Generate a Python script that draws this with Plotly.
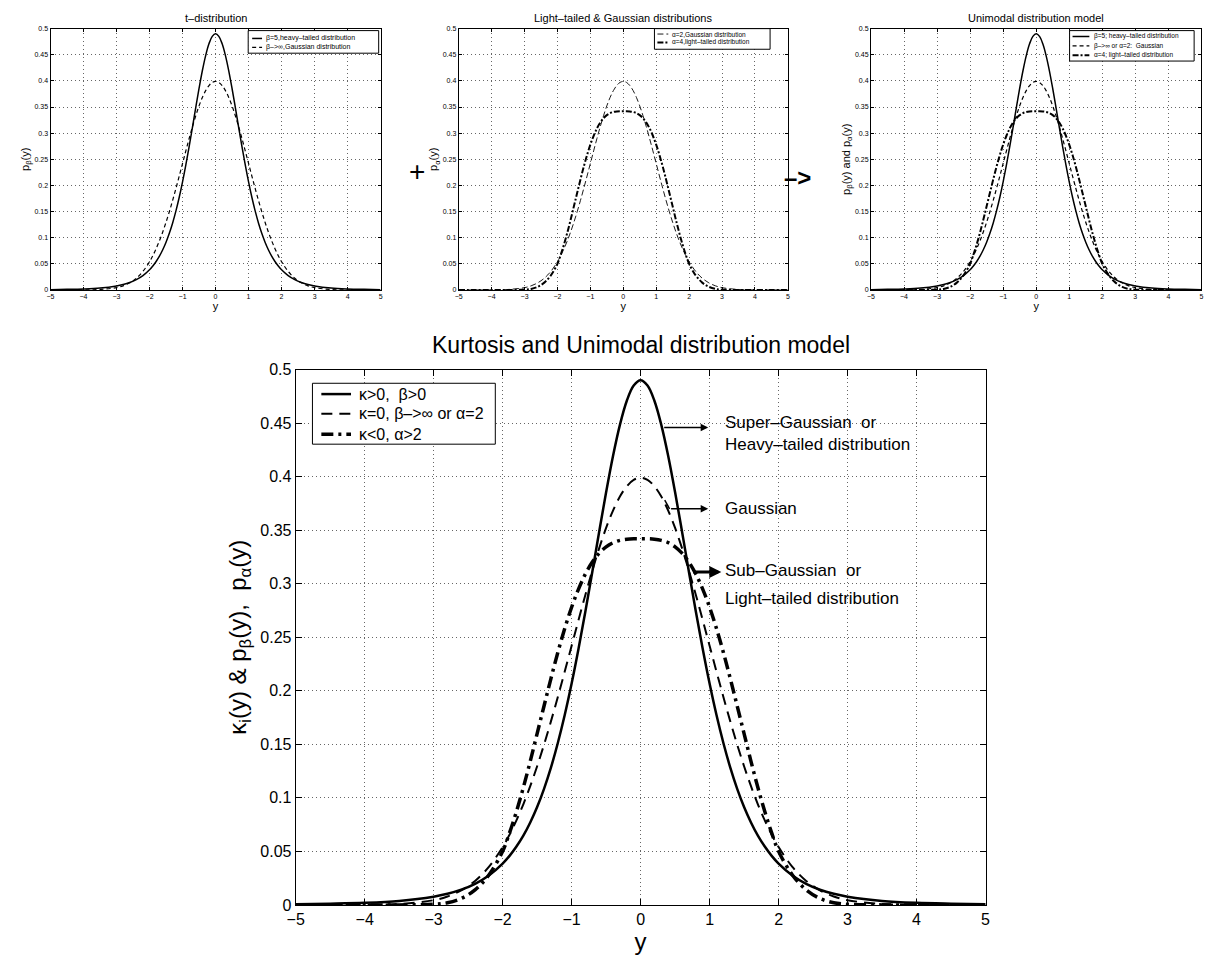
import plotly.graph_objects as go

W, H = 1210, 966

# sample points along y
y_pts = [-5.0, -4.5, -4.0, -3.5, -3.0, -2.8, -2.6, -2.4, -2.2, -2.0, -1.9, -1.8, -1.7, -1.6,
         -1.5, -1.4, -1.3, -1.2, -1.1, -1.0, -0.9, -0.8, -0.7, -0.6, -0.5, -0.4, -0.3, -0.2,
         -0.1, 0.0, 0.1, 0.2, 0.3, 0.4, 0.5, 0.6, 0.7, 0.8, 0.9, 1.0, 1.1, 1.2, 1.3, 1.4, 1.5,
         1.6, 1.7, 1.8, 1.9, 2.0, 2.2, 2.4, 2.6, 2.8, 3.0, 3.5, 4.0, 4.5, 5.0]

# heavy-tailed (beta=5)
p_heavy = [0.0006, 0.0011, 0.0019, 0.0037, 0.0077, 0.0104, 0.0142, 0.0197, 0.0275, 0.0386,
           0.0458, 0.0545, 0.0647, 0.0770, 0.0914, 0.1084, 0.1282, 0.1512, 0.1773, 0.2067,
           0.2392, 0.2743, 0.3112, 0.3488, 0.3854, 0.4193, 0.4484, 0.4709, 0.4851, 0.490,
           0.4851, 0.4709, 0.4484, 0.4193, 0.3854, 0.3488, 0.3112, 0.2743, 0.2392, 0.2067,
           0.1773, 0.1512, 0.1282, 0.1084, 0.0914, 0.0770, 0.0647, 0.0545, 0.0458, 0.0386,
           0.0275, 0.0197, 0.0142, 0.0104, 0.0077, 0.0037, 0.0019, 0.0011, 0.0006]

# Gaussian
p_gauss = [0.0, 0.0, 0.0001, 0.0009, 0.0044, 0.0079, 0.0136, 0.0224, 0.0355, 0.0540, 0.0656,
           0.0790, 0.0940, 0.1109, 0.1295, 0.1497, 0.1714, 0.1942, 0.2179, 0.2420, 0.2661,
           0.2897, 0.3123, 0.3332, 0.3521, 0.3683, 0.3814, 0.3910, 0.3970, 0.3989, 0.3970,
           0.3910, 0.3814, 0.3683, 0.3521, 0.3332, 0.3123, 0.2897, 0.2661, 0.2420, 0.2179,
           0.1942, 0.1714, 0.1497, 0.1295, 0.1109, 0.0940, 0.0790, 0.0656, 0.0540, 0.0355,
           0.0224, 0.0136, 0.0079, 0.0044, 0.0009, 0.0001, 0.0, 0.0]

# light-tailed (alpha=4)
p_light = [0.0, 0.0, 0.0, 0.0, 0.0006, 0.0020, 0.0060, 0.0140, 0.0280, 0.0500, 0.0673, 0.0872,
           0.1096, 0.1341, 0.1600, 0.1858, 0.2114, 0.2358, 0.2581, 0.2780, 0.2950, 0.3091,
           0.3202, 0.3285, 0.3344, 0.3383, 0.3405, 0.3416, 0.342, 0.342, 0.342, 0.3416, 0.3405,
           0.3383, 0.3344, 0.3285, 0.3202, 0.3091, 0.2950, 0.2780, 0.2581, 0.2358, 0.2114,
           0.1858, 0.1600, 0.1341, 0.1096, 0.0872, 0.0673, 0.0500, 0.0280, 0.0140, 0.0060,
           0.0020, 0.0006, 0.0, 0.0, 0.0, 0.0]

x_ticks = [-5, -4, -3, -2, -1, 0, 1, 2, 3, 4, 5]
x_tick_text = ["−5", "−4", "−3", "−2", "−1", "0", "1", "2", "3", "4", "5"]
y_ticks = [0, 0.05, 0.1, 0.15, 0.2, 0.25, 0.3, 0.35, 0.4, 0.45, 0.5]
y_tick_text = ["0", "0.05", "0.1", "0.15", "0.2", "0.25", "0.3", "0.35", "0.4", "0.45", "0.5"]

FONT = "Liberation Sans, Arial, Helvetica, sans-serif"

# line styles (width, dash) for small and big plots
SOLID_S, DASH_S, DASH2_S, DDOT_S = (1.5, "solid"), (1.2, "4px,3px"), (0.9, "6px,3px"), (2, "6px,2px,2px,2px")
SOLID_B, DASH_B, DDOT_B = (2.5, "solid"), (2, "11px,7px"), (3.5, "12px,5px,3px,5px")

fig = go.Figure()


def add_line(y, ax, style):
    fig.add_trace(go.Scatter(
        x=y_pts, y=y, mode="lines", line_shape="spline", showlegend=False,
        line=dict(color="black", width=style[0], dash=style[1]),
        xaxis="x" + ax, yaxis="y" + ax, hoverinfo="skip"
    ))


add_line(p_gauss, "2", DASH_S)
add_line(p_heavy, "2", SOLID_S)
add_line(p_gauss, "3", DASH2_S)
add_line(p_light, "3", DDOT_S)
add_line(p_gauss, "4", DASH_S)
add_line(p_light, "4", DDOT_S)
add_line(p_heavy, "4", SOLID_S)
add_line(p_gauss, "", DASH_B)
add_line(p_light, "", DDOT_B)
add_line(p_heavy, "", SOLID_B)


def xax(domain, big):
    return dict(domain=domain, range=[-5, 5], tickvals=x_ticks, ticktext=x_tick_text,
                ticks="inside", ticklen=6 if big else 3, mirror="ticks", showline=True,
                linecolor="black", linewidth=1, tickcolor="black", showgrid=True,
                griddash="1px,3px", gridcolor="#666", gridwidth=1, zeroline=False,
                ticklabeloverflow="allow",
                tickfont=dict(size=16 if big else 7, color="black"),
                title=dict(text="y", font=dict(size=24 if big else 11, color="black"),
                           standoff=4 if big else 1))


def yax(domain, big, title, anchor):
    return dict(domain=domain, range=[0, 0.5], tickvals=y_ticks, ticktext=y_tick_text,
                ticks="inside", ticklen=6 if big else 3, mirror="ticks", showline=True,
                linecolor="black", linewidth=1, tickcolor="black", showgrid=True,
                griddash="1px,3px", gridcolor="#666", gridwidth=1, zeroline=False,
                anchor=anchor,
                tickfont=dict(size=16 if big else 7, color="black"),
                title=dict(text=title, font=dict(size=24 if big else 11, color="black"),
                           standoff=6 if big else 2))


top_y = [0.7029, 0.9783]

fig.update_layout(
    width=W, height=H,
    margin=dict(l=0, r=0, t=0, b=0),
    paper_bgcolor="white", plot_bgcolor="white",
    font=dict(family=FONT, color="black"),
    showlegend=False,
    xaxis=xax([0.2397, 0.8165], True),
    yaxis=yax([0.0549, 0.6190], True, "κ<sub>i</sub>(y) & p<sub>β</sub>(y),  p<sub>α</sub>(y)", "x"),
    xaxis2=dict(xax([0.0347, 0.3107], False), anchor="y2"),
    yaxis2=yax(top_y, False, "p<sub>β</sub>(y)", "x2"),
    xaxis3=dict(xax([0.3760, 0.6512], False), anchor="y3"),
    yaxis3=yax(top_y, False, "p<sub>α</sub>(y)", "x3"),
    xaxis4=dict(xax([0.7207, 0.9970], False), anchor="y4"),
    yaxis4=yax(top_y, False, "p<sub>β</sub>(y) and p<sub>α</sub>(y)", "x4"),
)


# legend boxes (drawn like the MATLAB ones, in pixel positions of the page)
def add_legend(box, sample, text_x, rows, size):
    x0, y0, x1, y1 = box
    fig.add_shape(type="rect", xref="paper", yref="paper", x0=x0 / W, x1=x1 / W,
                  y0=1 - y0 / H, y1=1 - y1 / H, line=dict(color="black", width=1),
                  fillcolor="white", layer="above")
    for ry, label, style in rows:
        fig.add_shape(type="line", xref="paper", yref="paper", x0=sample[0] / W,
                      x1=sample[1] / W, y0=1 - ry / H, y1=1 - ry / H, layer="above",
                      line=dict(color="black", width=style[0], dash=style[1]))
        fig.add_annotation(text=label, x=text_x / W, y=1 - ry / H, xref="paper", yref="paper",
                           showarrow=False, xanchor="left", yanchor="middle",
                           font=dict(size=size, color="black"))


add_legend((242, 23, 374, 46), (246, 256), 258,
           [(31, "β=5,heavy–tailed distribution", SOLID_S),
            (40, "β–>∞,Gaussian distribution", DASH_S)], 7)
add_legend((653, 21, 770, 42), (656, 667), 669,
           [(26.5, "α=2,Gaussian distribution", DASH2_S),
            (35, "α=4,light–tailed distribution", DDOT_S)], 6.5)
add_legend((1073, 23, 1199, 54), (1076, 1093), 1096,
           [(29, "β=5; heavy–tailed distribution", SOLID_S),
            (38.5, "β–>∞ or α=2:  Gaussian", DASH_S),
            (48, "α=4; light–tailed distribution", DDOT_S)], 6.5)
add_legend((307, 382, 492, 444), (316, 346), 352,
           [(393, "κ>0,  β>0", SOLID_B),
            (413, "κ=0, β–>∞ or α=2", DASH_B),
            (434, "κ<0, α>2", DDOT_B)], 16)

# titles
titles = [("t–distribution", 0.1727, 0.9896, 11),
          ("Light–tailed & Gaussian distributions", 0.5136, 0.9896, 11),
          ("Unimodal distribution model", 0.8589, 0.9896, 11),
          ("Kurtosis and Unimodal distribution model", 0.5281, 0.645, 23)]
for text, x, y, size in titles:
    fig.add_annotation(text=text, x=x, y=y, xref="paper", yref="paper", showarrow=False,
                       xanchor="center", yanchor="middle", font=dict(size=size, color="black"))

# "+" and "->" between the top plots
fig.add_annotation(text="+", x=403 / W, y=1 - 149 / H, xref="paper", yref="paper",
                   showarrow=False, font=dict(size=28, color="black"))
fig.add_annotation(text="<b>–></b>", x=813 / W, y=1 - 157 / H, xref="paper", yref="paper",
                   showarrow=False, font=dict(size=24, color="black"))

# arrows in the big plot
fig.add_shape(type="line", xref="x", yref="y", x0=0.35, y0=0.378, x1=0.42, y1=0.370,
              line=dict(color="black", width=1.5))
arrows = [(0.32, 0.446, 0.98, 0.446, 1.5),
          (0.42, 0.370, 0.98, 0.370, 1.5),
          (0.74, 0.311, 1.17, 0.311, 3)]
for x0, y0, x1, y1, w in arrows:
    fig.add_annotation(x=x1, y=y1, ax=x0, ay=y0, xref="x", yref="y", axref="x", ayref="y",
                       text="", showarrow=True, arrowhead=2, arrowsize=1 if w < 2 else 0.8,
                       arrowwidth=w, arrowcolor="black")

labels = [("Super–Gaussian  or", 0.451), ("Heavy–tailed distribution", 0.430),
          ("Gaussian", 0.370),
          ("Sub–Gaussian  or", 0.312), ("Light–tailed distribution", 0.286)]
for text, y in labels:
    fig.add_annotation(text=text, x=1.2, y=y, xref="x", yref="y", showarrow=False,
                       xanchor="left", yanchor="middle", font=dict(size=17, color="black"))

# the page's default body margin would push the figure 8px right and down
fig.write_html("out.html", post_script="document.body.style.margin = '0';",
               config={"displayModeBar": False})
